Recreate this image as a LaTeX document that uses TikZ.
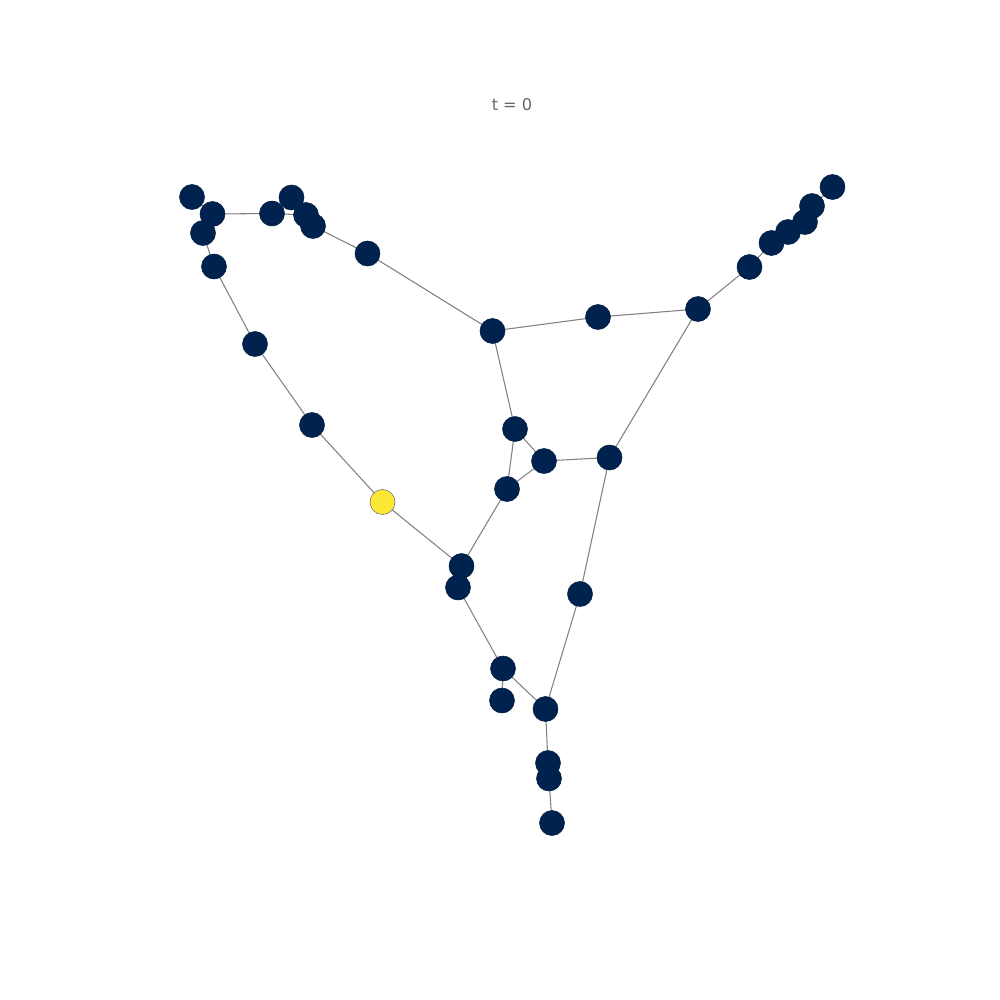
\documentclass[tikz,border=0pt]{standalone}
\usepackage{fontspec}
\setmainfont{DejaVu Sans}
\usetikzlibrary{backgrounds}
\definecolor{nodedark}{HTML}{00224E}
\definecolor{nodeyellow}{HTML}{FDE838}
\begin{document}
\begin{tikzpicture}[x=0.01cm,y=-0.01cm,
  vtx/.style={circle,fill=nodedark,draw=nodedark!80!black,line width=0.15pt,inner sep=0pt,minimum size=0.25cm},
  hot/.style={vtx,fill=nodeyellow,draw=black!60},
  edge/.style={draw=black!50,line width=0.3pt}]
\useasboundingbox (0,0) rectangle (1000,1000);
\node[text=black!60,font=\fontsize{4.6}{5}\selectfont] (title) at (512,105) {t = 0};
% nodes
\node[vtx] (a1) at (192,197) {};
\node[vtx] (a2) at (212.5,214) {};
\node[vtx] (a3) at (203,233) {};
\node[vtx] (a4) at (214,266.5) {};
\node[vtx] (a5) at (255,344) {};
\node[vtx] (a6) at (312,425) {};
\node[hot] (a7) at (382.5,502) {};
\node[vtx] (a8) at (461.5,566) {};
\node[vtx] (a9) at (458,587.5) {};
\node[vtx] (a10) at (503,668.5) {};
\node[vtx] (a11) at (502,700.5) {};
\node[vtx] (a12) at (545.5,709) {};
\node[vtx] (a13) at (548,763) {};
\node[vtx] (a14) at (549,778.5) {};
\node[vtx] (a15) at (552,823) {};
\node[vtx] (b1) at (272,213.5) {};
\node[vtx] (b2) at (291.5,197.5) {};
\node[vtx] (b3) at (306,215) {};
\node[vtx] (b4) at (313,226) {};
\node[vtx] (b5) at (367.5,253.5) {};
\node[vtx] (c1) at (492.5,331) {};
\node[vtx] (c2) at (598,317) {};
\node[vtx] (c3) at (698,309) {};
\node[vtx] (c4) at (749.5,267) {};
\node[vtx] (c5) at (771.5,243) {};
\node[vtx] (c6) at (788,232) {};
\node[vtx] (c7) at (805,222) {};
\node[vtx] (c8) at (812,206) {};
\node[vtx] (c9) at (832.5,187) {};
\node[vtx] (d1) at (515,429) {};
\node[vtx] (d2) at (544,461) {};
\node[vtx] (d3) at (609.5,457.5) {};
\node[vtx] (d4) at (507,489) {};
\node[vtx] (d5) at (580,594) {};
% edges behind nodes
\begin{scope}[on background layer]
\draw[edge] (a1.center) -- (a2.center);
\draw[edge] (a2.center) -- (a3.center);
\draw[edge] (a3.center) -- (a4.center);
\draw[edge] (a4.center) -- (a5.center);
\draw[edge] (a5.center) -- (a6.center);
\draw[edge] (a6.center) -- (a7.center);
\draw[edge] (a7.center) -- (a8.center);
\draw[edge] (a8.center) -- (a9.center);
\draw[edge] (a9.center) -- (a10.center);
\draw[edge] (a10.center) -- (a11.center);
\draw[edge] (a10.center) -- (a12.center);
\draw[edge] (a12.center) -- (a13.center);
\draw[edge] (a13.center) -- (a14.center);
\draw[edge] (a14.center) -- (a15.center);
\draw[edge] (a2.center) -- (b1.center);
\draw[edge] (b1.center) -- (b3.center);
\draw[edge] (b2.center) -- (b3.center);
\draw[edge] (b3.center) -- (b4.center);
\draw[edge] (b4.center) -- (b5.center);
\draw[edge] (b5.center) -- (c1.center);
\draw[edge] (c1.center) -- (c2.center);
\draw[edge] (c2.center) -- (c3.center);
\draw[edge] (c3.center) -- (c4.center);
\draw[edge] (c4.center) -- (c5.center);
\draw[edge] (c5.center) -- (c6.center);
\draw[edge] (c6.center) -- (c7.center);
\draw[edge] (c7.center) -- (c8.center);
\draw[edge] (c8.center) -- (c9.center);
\draw[edge] (c1.center) -- (d1.center);
\draw[edge] (d1.center) -- (d2.center);
\draw[edge] (d1.center) -- (d4.center);
\draw[edge] (d2.center) -- (d4.center);
\draw[edge] (d2.center) -- (d3.center);
\draw[edge] (d3.center) -- (c3.center);
\draw[edge] (d3.center) -- (d5.center);
\draw[edge] (d5.center) -- (a12.center);
\draw[edge] (a8.center) -- (d4.center);
\end{scope}
\end{tikzpicture}
\end{document}
